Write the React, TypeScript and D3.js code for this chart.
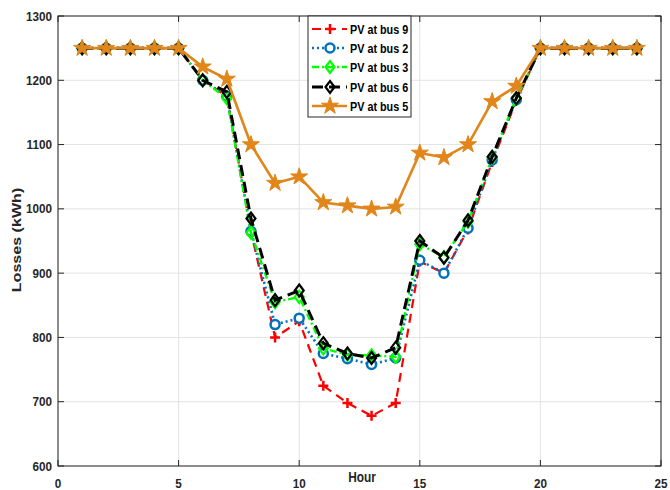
import React from "react";
import * as d3 from "d3";

const hours = d3.range(1, 25);
const bus9 = [1250, 1250, 1250, 1250, 1250, 1200, 1175, 965, 800, 825, 725, 698, 678, 698, 918, 900, 968, 1073, 1168, 1250, 1250, 1250, 1250, 1250];
const bus2 = [1250, 1250, 1250, 1250, 1250, 1200, 1175, 965, 820, 830, 775, 767, 758, 768, 920, 900, 970, 1076, 1170, 1250, 1250, 1250, 1250, 1250];
const bus3 = [1250, 1250, 1250, 1250, 1250, 1200, 1172, 963, 855, 863, 783, 773, 772, 770, 945, 925, 980, 1080, 1172, 1250, 1250, 1250, 1250, 1250];
const bus6 = [1250, 1250, 1250, 1250, 1250, 1200, 1182, 985, 858, 873, 791, 775, 768, 784, 950, 924, 982, 1081, 1172, 1250, 1250, 1250, 1250, 1250];
const bus5 = [1250, 1250, 1250, 1250, 1250, 1221, 1202, 1100, 1040, 1050, 1010, 1005, 1000, 1003, 1087, 1080, 1100, 1167, 1191, 1250, 1250, 1250, 1250, 1250];
const xTicks = [0, 5, 10, 15, 20, 25];
const yTicks = [600, 700, 800, 900, 1000, 1100, 1200, 1300];

type S = {
  name: string;
  values: number[];
  color: string;
  width: number;
  dash: string;
  marker: "plus" | "circle" | "diamond" | "star";
  mfill: string;
  mstroke: string;
};

const series: S[] = [
  { name: "PV at bus 9", values: bus9, color: "#ff0000", width: 2.2, dash: "9 6", marker: "plus", mfill: "none", mstroke: "#ff0000" },
  { name: "PV at bus 2", values: bus2, color: "#0072bd", width: 2.6, dash: "2 3", marker: "circle", mfill: "#ffffff", mstroke: "#0072bd" },
  { name: "PV at bus 3", values: bus3, color: "#00ff00", width: 2.4, dash: "7 3 2 3", marker: "diamond", mfill: "none", mstroke: "#00ff00" },
  { name: "PV at bus 6", values: bus6, color: "#000000", width: 3, dash: "11 6", marker: "diamond", mfill: "none", mstroke: "#000000" },
  { name: "PV at bus 5", values: bus5, color: "#e0861a", width: 2.6, dash: "", marker: "star", mfill: "#e0861a", mstroke: "#e0861a" },
];

const L = 58, R = 661, T = 16, B = 466;
const font = "Arial, 'Liberation Sans', sans-serif";

function Marker({ s, x, y }: { s: S; x: number; y: number }) {
  if (s.marker === "plus") {
    return <path d={`M${x - 5},${y}H${x + 5}M${x},${y - 5}V${y + 5}`} stroke={s.mstroke} strokeWidth={2.5} fill="none" />;
  }
  if (s.marker === "circle") {
    return <circle cx={x} cy={y} r={4.5} fill={s.mfill} stroke={s.mstroke} strokeWidth={2.5} />;
  }
  if (s.marker === "diamond") {
    const w = 4.5, h = 6;
    return <path d={`M${x},${y - h}L${x + w},${y}L${x},${y + h}L${x - w},${y}Z`} fill="none" stroke={s.mstroke} strokeWidth={2.2} />;
  }
  const p = d3.symbol().type(d3.symbolStar).size(90)() as string;
  return <path d={p} transform={`translate(${x},${y})`} fill={s.mfill} stroke={s.mstroke} strokeWidth={1} />;
}

function T2({ x, y, anchor, size, sx, children, rot }: { x: number; y: number; anchor?: string; size: number; sx: number; children: React.ReactNode; rot?: boolean }) {
  const tr = rot ? `translate(${x},${y}) rotate(-90) scale(1.15,0.9)` : `translate(${x},${y}) scale(${sx},1)`;
  return (
    <text transform={tr} textAnchor={anchor || "start"} fontFamily={font} fontWeight="bold" fontSize={size} fill="#262626">
      {children}
    </text>
  );
}

export default function App() {
  const x = d3.scaleLinear().domain([0, 25]).range([L, R]);
  const y = d3.scaleLinear().domain([600, 1300]).range([B, T]);
  const line = d3.line<number>().x((_, i) => x(hours[i])).y((v) => y(v));

  const legX = 308, legY = 16, legW = 103, legH = 101;
  const rows = [29, 48, 67, 87, 106];

  return (
    <svg width={670} height={490} style={{ position: "absolute", left: 0, top: 0, background: "#fff" }}>
      <rect x={0} y={0} width={670} height={490} fill="#fff" />
      {xTicks.map((t) => (
        <line key={"gx" + t} x1={x(t)} x2={x(t)} y1={T} y2={B} stroke="#e3e3e3" strokeWidth={1} />
      ))}
      {yTicks.map((t) => (
        <line key={"gy" + t} x1={L} x2={R} y1={y(t)} y2={y(t)} stroke="#e3e3e3" strokeWidth={1} />
      ))}
      {series.map((s) => (
        <g key={s.name}>
          <path d={line(s.values) as string} fill="none" stroke={s.color} strokeWidth={s.width} strokeDasharray={s.dash || undefined} />
          {s.values.map((v, i) => (
            <Marker key={i} s={s} x={x(hours[i])} y={y(v)} />
          ))}
        </g>
      ))}
      <rect x={L} y={T} width={R - L} height={B - T} fill="none" stroke="#262626" strokeWidth={1} />
      {xTicks.map((t) => (
        <g key={"tx" + t}>
          <line x1={x(t)} x2={x(t)} y1={B} y2={B - 6} stroke="#262626" />
          <line x1={x(t)} x2={x(t)} y1={T} y2={T + 6} stroke="#262626" />
          <T2 x={x(t)} y={488} anchor="middle" size={13} sx={0.9}>{t}</T2>
        </g>
      ))}
      {yTicks.map((t) => (
        <g key={"ty" + t}>
          <line x1={L} x2={L + 6} y1={y(t)} y2={y(t)} stroke="#262626" />
          <line x1={R} x2={R - 6} y1={y(t)} y2={y(t)} stroke="#262626" />
          <T2 x={52} y={y(t) + 4.6} anchor="end" size={13} sx={0.9}>{t}</T2>
        </g>
      ))}
      <T2 x={362} y={481.5} anchor="middle" size={14} sx={0.85}>Hour</T2>
      <T2 x={21} y={240} anchor="middle" size={14} sx={1} rot>Losses (kWh)</T2>
      <rect x={legX} y={legY} width={legW} height={legH} fill="#fff" stroke="#262626" strokeWidth={1} />
      {series.map((s, i) => (
        <g key={"lg" + s.name}>
          <line x1={312} x2={347} y1={rows[i]} y2={rows[i]} stroke={s.color} strokeWidth={s.width} strokeDasharray={s.dash || undefined} />
          <Marker s={s} x={330} y={rows[i]} />
          <text transform={`translate(350,${rows[i] + 4.8}) scale(0.8,1)`} fontFamily={font} fontWeight="bold" fontSize={13.5} fill="#000">
            {s.name}
          </text>
        </g>
      ))}
    </svg>
  );
}
